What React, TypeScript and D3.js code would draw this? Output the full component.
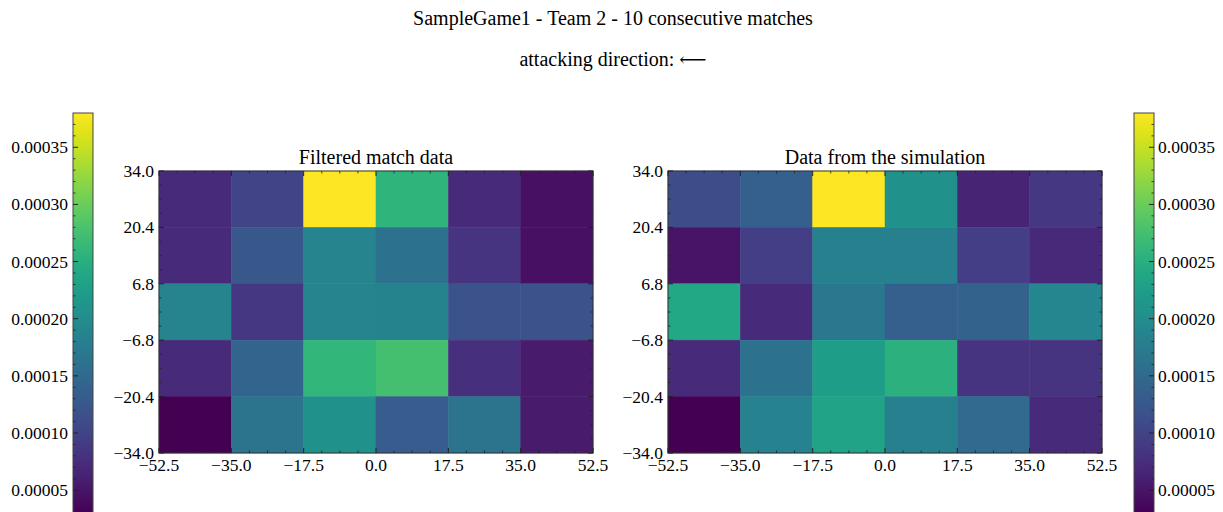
import React from 'react';
import * as d3 from 'd3';

// bin edges of the pitch (105 x 68)
const xEdges = [-52.5, -35.0, -17.5, 0.0, 17.5, 35.0, 52.5];
const yEdges = [-34.0, -20.4, -6.8, 6.8, 20.4, 34.0];

// densities, rows from top (y 34) to bottom (y -34), in units of 1e-5
const filtered = [
  [7.2, 10.0, 38.0, 25.8, 7.2, 4.4],
  [7.2, 12.5, 18.8, 16.0, 8.3, 4.4],
  [18.8, 8.6, 18.8, 18.6, 11.8, 11.8],
  [7.2, 14.2, 26.1, 27.5, 7.9, 5.5],
  [3.0, 16.3, 20.5, 13.2, 16.3, 5.5],
];
const simulated = [
  [11.0, 13.5, 38.0, 20.5, 6.5, 8.6],
  [4.8, 9.3, 18.1, 18.1, 9.3, 6.9],
  [24.0, 7.2, 17.0, 13.5, 13.9, 19.1],
  [7.2, 16.0, 22.3, 25.4, 8.3, 8.3],
  [3.0, 18.4, 23.3, 18.1, 14.9, 7.2],
];
const cbarTicks = [0.00005, 0.0001, 0.00015, 0.0002, 0.00025, 0.0003, 0.00035];
const vmin = 0.00003;
const vmax = 0.00038;

const FONT = '"Liberation Serif", "DejaVu Serif", serif';
const TICK_FS = 17.5;
const TITLE_FS = 20;
const color = d3.scaleSequential(d3.interpolateViridis).domain([vmin, vmax]);

const fmtTick = (v: number) => (v < 0 ? '\u2212' : '') + Math.abs(v).toFixed(1);

function minorsOf(edges: number[], n: number) {
  const out: number[] = [];
  for (let i = 0; i < edges.length - 1; i++) {
    const step = (edges[i + 1] - edges[i]) / n;
    for (let k = 1; k < n; k++) out.push(edges[i] + k * step);
  }
  return out;
}

const Heatmap = ({ left, title, data }: { left: number; title: string; data: number[][] }) => {
  const top = 171;
  const bottom = 453;
  const w = 434;
  const x = d3.scaleLinear([-52.5, 52.5], [left, left + w]);
  const y = d3.scaleLinear([-34, 34], [bottom, top]);
  const yTop = [...yEdges].reverse();
  const xMin = minorsOf(xEdges, 4);
  const yMin = minorsOf(yEdges, 4);
  const tc = '#222';
  return (
    <g>
      {data.map((row, r) =>
        row.map((v, c) => (
          <rect
            key={`${r}-${c}`}
            x={x(xEdges[c])}
            y={y(yTop[r])}
            width={x(xEdges[c + 1]) - x(xEdges[c])}
            height={y(yTop[r + 1]) - y(yTop[r])}
            fill={color(v * 1e-5)}
            stroke={color(v * 1e-5)}
            strokeWidth={0.5}
          />
        ))
      )}
      <rect x={left} y={top} width={w} height={bottom - top} fill="none" stroke="#333" strokeWidth={1} />
      {xEdges.map((t) => (
        <g key={`xt${t}`}>
          <line x1={x(t)} x2={x(t)} y1={bottom} y2={bottom - 5} stroke={tc} />
          <line x1={x(t)} x2={x(t)} y1={top} y2={top + 5} stroke={tc} />
          <text x={x(t)} y={471} textAnchor="middle" fontSize={TICK_FS} fontFamily={FONT} fill="#000">
            {fmtTick(t)}
          </text>
        </g>
      ))}
      {xMin.map((t) => (
        <g key={`xm${t}`}>
          <line x1={x(t)} x2={x(t)} y1={bottom} y2={bottom - 2.5} stroke={tc} strokeWidth={0.8} />
          <line x1={x(t)} x2={x(t)} y1={top} y2={top + 2.5} stroke={tc} strokeWidth={0.8} />
        </g>
      ))}
      {yEdges.map((t) => (
        <g key={`yt${t}`}>
          <line x1={left} x2={left + 5} y1={y(t)} y2={y(t)} stroke={tc} />
          <line x1={left + w} x2={left + w - 5} y1={y(t)} y2={y(t)} stroke={tc} />
          <text x={left - 5} y={y(t) + 6} textAnchor="end" fontSize={TICK_FS} fontFamily={FONT} fill="#000">
            {fmtTick(t)}
          </text>
        </g>
      ))}
      {yMin.map((t) => (
        <g key={`ym${t}`}>
          <line x1={left} x2={left + 2.5} y1={y(t)} y2={y(t)} stroke={tc} strokeWidth={0.8} />
          <line x1={left + w} x2={left + w - 2.5} y1={y(t)} y2={y(t)} stroke={tc} strokeWidth={0.8} />
        </g>
      ))}
      <text x={left + w / 2} y={164} textAnchor="middle" fontSize={TITLE_FS} fontFamily={FONT} fill="#000">
        {title}
      </text>
    </g>
  );
};

const Colorbar = ({ left, side, id }: { left: number; side: 'left' | 'right'; id: string }) => {
  const w = 20;
  const y = d3.scaleLinear([vmin, vmax], [513, 113]);
  const stops = d3.range(0, 1.0001, 0.05);
  const minor = d3.range(0.00004, 0.00038, 0.00001).filter((v) => !cbarTicks.some((t) => Math.abs(t - v) < 1e-9));
  const edge = side === 'left' ? left : left + w;
  const dir = side === 'left' ? 1 : -1;
  return (
    <g>
      <defs>
        <linearGradient id={id} x1="0" y1="1" x2="0" y2="0">
          {stops.map((s) => (
            <stop key={s} offset={s} stopColor={d3.interpolateViridis(s)} />
          ))}
        </linearGradient>
      </defs>
      <rect x={left} y={y(vmax)} width={w} height={y(vmin) - y(vmax)} fill={`url(#${id})`} stroke="#444" strokeWidth={1} />
      {cbarTicks.map((t) => (
        <g key={t}>
          <line x1={edge} x2={edge + dir * 5} y1={y(t)} y2={y(t)} stroke="#222" />
          <text
            x={side === 'left' ? left - 5 : left + w + 4}
            y={y(t) + 6}
            textAnchor={side === 'left' ? 'end' : 'start'}
            fontSize={TICK_FS}
            fontFamily={FONT}
            fill="#000"
          >
            {t.toFixed(5)}
          </text>
        </g>
      ))}
      {minor.map((t) => (
        <line key={t} x1={edge} x2={edge + dir * 2.5} y1={y(t)} y2={y(t)} stroke="#222" strokeWidth={0.8} />
      ))}
    </g>
  );
};

export default function App() {
  return (
    <svg
      width={1223}
      height={512}
      style={{ position: 'fixed', left: 0, top: 0, background: '#fff' }}
    >
      <rect width={1223} height={512} fill="#fff" />
      <text x={613} y={25} textAnchor="middle" fontSize={TITLE_FS} fontFamily={FONT} fill="#000">
        SampleGame1 - Team 2 - 10 consecutive matches
      </text>
      <text x={613} y={66} textAnchor="middle" fontSize={TITLE_FS} fontFamily={FONT} fill="#000">
        attacking direction: <tspan fontFamily='"DejaVu Serif", serif' fontSize={19}>{'\u27F5'}</tspan>
      </text>
      <Colorbar left={73} side="left" id="cb1" />
      <Heatmap left={159} title="Filtered match data" data={filtered} />
      <Heatmap left={668} title="Data from the simulation" data={simulated} />
      <Colorbar left={1134} side="right" id="cb2" />
    </svg>
  );
}
